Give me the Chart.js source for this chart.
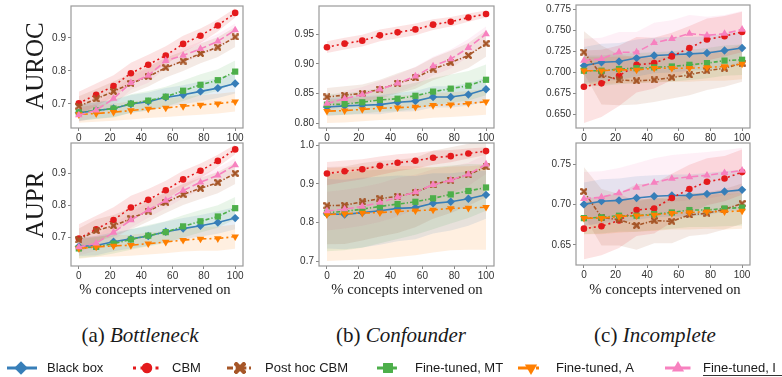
<!DOCTYPE html>
<html>
<head>
<meta charset="utf-8">
<script src="https://cdn.jsdelivr.net/npm/chart.js@4.4.1/dist/chart.umd.min.js"></script>
<style>
  body { margin: 0; background: #fff; width: 782px; height: 377px; overflow: hidden; position: relative; }
  canvas.panel { position: absolute; }
  .lbl { position: absolute; font-family: "Liberation Serif", serif; color: #1a1a1a; white-space: nowrap; transform: translate(-50%, -50%); }
  .rot { transform: translate(-50%, -50%) rotate(-90deg); }
</style>
</head>
<body>

<script>
// ========================
// DATA
// ========================

// x positions: % of concepts intervened on
const xPct = [0, 11.1, 22.2, 33.3, 44.4, 55.6, 66.7, 77.8, 88.9, 100];
const xTicks = [0, 20, 40, 60, 80, 100];

const seriesNames = ['Black box', 'CBM', 'Post hoc CBM', 'Fine-tuned, MT', 'Fine-tuned, A', 'Fine-tuned, I'];

// each panel: rows follow seriesNames order (mean, then +/- spread)
const rocBottleneck = [
  [0.673, 0.680, 0.686, 0.700, 0.707, 0.720, 0.728, 0.738, 0.748, 0.762],
  [0.702, 0.728, 0.754, 0.793, 0.819, 0.847, 0.882, 0.907, 0.938, 0.976],
  [0.693, 0.715, 0.738, 0.762, 0.783, 0.810, 0.830, 0.853, 0.872, 0.903],
  [0.674, 0.680, 0.686, 0.701, 0.710, 0.722, 0.740, 0.758, 0.772, 0.798],
  [0.668, 0.671, 0.675, 0.680, 0.685, 0.688, 0.693, 0.697, 0.701, 0.707],
  [0.666, 0.681, 0.716, 0.764, 0.786, 0.831, 0.847, 0.867, 0.890, 0.924]
];
const rocBottleneckSd = [
  [0.025, 0.025, 0.026, 0.027, 0.028, 0.028, 0.029, 0.030, 0.030, 0.030],
  [0.035, 0.034, 0.033, 0.032, 0.030, 0.028, 0.025, 0.022, 0.018, 0.014],
  [0.030, 0.030, 0.030, 0.030, 0.030, 0.030, 0.030, 0.030, 0.030, 0.030],
  [0.025, 0.026, 0.027, 0.028, 0.029, 0.030, 0.031, 0.032, 0.033, 0.034],
  [0.025, 0.025, 0.026, 0.027, 0.028, 0.028, 0.029, 0.030, 0.030, 0.030],
  [0.020, 0.020, 0.021, 0.021, 0.022, 0.022, 0.022, 0.022, 0.022, 0.020]
];

const prBottleneck = [
  [0.671, 0.674, 0.686, 0.695, 0.704, 0.717, 0.727, 0.736, 0.746, 0.760],
  [0.696, 0.725, 0.754, 0.793, 0.817, 0.847, 0.881, 0.908, 0.939, 0.975],
  [0.692, 0.721, 0.736, 0.758, 0.782, 0.809, 0.834, 0.853, 0.871, 0.900],
  [0.665, 0.670, 0.680, 0.693, 0.705, 0.716, 0.734, 0.750, 0.765, 0.791],
  [0.665, 0.670, 0.673, 0.675, 0.680, 0.685, 0.691, 0.695, 0.696, 0.702],
  [0.669, 0.681, 0.715, 0.754, 0.785, 0.815, 0.846, 0.872, 0.894, 0.926]
];
const prBottleneckSd = [
  [0.030, 0.030, 0.030, 0.030, 0.031, 0.032, 0.033, 0.034, 0.035, 0.035],
  [0.045, 0.042, 0.040, 0.037, 0.034, 0.030, 0.027, 0.023, 0.019, 0.015],
  [0.035, 0.035, 0.034, 0.034, 0.033, 0.033, 0.033, 0.033, 0.033, 0.033],
  [0.030, 0.030, 0.031, 0.032, 0.033, 0.034, 0.035, 0.035, 0.035, 0.035],
  [0.032, 0.032, 0.033, 0.033, 0.034, 0.035, 0.036, 0.037, 0.038, 0.038],
  [0.025, 0.024, 0.024, 0.024, 0.024, 0.024, 0.024, 0.024, 0.023, 0.022]
];

const rocConfounder = [
  [0.827, 0.829, 0.830, 0.831, 0.835, 0.837, 0.844, 0.844, 0.848, 0.857],
  [0.928, 0.934, 0.939, 0.948, 0.953, 0.958, 0.966, 0.971, 0.978, 0.984],
  [0.844, 0.847, 0.850, 0.857, 0.867, 0.876, 0.891, 0.902, 0.914, 0.934],
  [0.831, 0.832, 0.835, 0.839, 0.841, 0.846, 0.853, 0.858, 0.863, 0.873],
  [0.820, 0.821, 0.823, 0.825, 0.826, 0.827, 0.830, 0.831, 0.833, 0.836],
  [0.833, 0.841, 0.848, 0.857, 0.867, 0.879, 0.896, 0.908, 0.927, 0.950]
];
const rocConfounderSd = [
  [0.015, 0.015, 0.015, 0.016, 0.016, 0.017, 0.018, 0.018, 0.019, 0.020],
  [0.010, 0.010, 0.010, 0.010, 0.010, 0.010, 0.009, 0.008, 0.007, 0.006],
  [0.015, 0.015, 0.015, 0.016, 0.017, 0.018, 0.019, 0.020, 0.021, 0.022],
  [0.018, 0.018, 0.019, 0.020, 0.021, 0.022, 0.023, 0.024, 0.025, 0.026],
  [0.020, 0.020, 0.020, 0.020, 0.020, 0.021, 0.021, 0.021, 0.021, 0.022],
  [0.012, 0.013, 0.013, 0.014, 0.015, 0.016, 0.016, 0.016, 0.015, 0.013]
];

const prConfounder = [
  [0.823, 0.821, 0.826, 0.831, 0.837, 0.839, 0.850, 0.854, 0.862, 0.872],
  [0.927, 0.933, 0.938, 0.947, 0.955, 0.960, 0.968, 0.972, 0.979, 0.985],
  [0.844, 0.845, 0.854, 0.862, 0.868, 0.878, 0.898, 0.910, 0.924, 0.944],
  [0.826, 0.829, 0.835, 0.842, 0.848, 0.854, 0.863, 0.873, 0.882, 0.891],
  [0.821, 0.823, 0.825, 0.826, 0.829, 0.831, 0.833, 0.837, 0.838, 0.840],
  [0.830, 0.835, 0.842, 0.852, 0.866, 0.879, 0.898, 0.910, 0.925, 0.951]
];
const prConfounderSd = [
  [0.090, 0.090, 0.090, 0.088, 0.085, 0.082, 0.078, 0.074, 0.070, 0.062],
  [0.030, 0.028, 0.026, 0.024, 0.022, 0.020, 0.018, 0.016, 0.013, 0.010],
  [0.100, 0.100, 0.100, 0.098, 0.095, 0.090, 0.088, 0.085, 0.080, 0.078],
  [0.100, 0.100, 0.100, 0.095, 0.090, 0.085, 0.080, 0.075, 0.070, 0.060],
  [0.120, 0.120, 0.120, 0.120, 0.118, 0.115, 0.110, 0.108, 0.108, 0.110],
  [0.050, 0.050, 0.050, 0.050, 0.050, 0.045, 0.040, 0.035, 0.030, 0.025]
];

const rocIncomplete = [
  [0.708, 0.712, 0.713, 0.717, 0.720, 0.721, 0.722, 0.723, 0.726, 0.729],
  [0.683, 0.687, 0.696, 0.709, 0.711, 0.719, 0.729, 0.739, 0.743, 0.748],
  [0.724, 0.697, 0.691, 0.690, 0.691, 0.694, 0.697, 0.702, 0.705, 0.711],
  [0.702, 0.702, 0.704, 0.705, 0.706, 0.707, 0.709, 0.711, 0.714, 0.715],
  [0.702, 0.702, 0.703, 0.703, 0.705, 0.705, 0.705, 0.706, 0.707, 0.710],
  [0.714, 0.716, 0.724, 0.724, 0.735, 0.740, 0.746, 0.744, 0.746, 0.751]
];
const rocIncompleteSd = [
  [0.022, 0.022, 0.022, 0.022, 0.021, 0.021, 0.020, 0.020, 0.020, 0.020],
  [0.043, 0.040, 0.036, 0.033, 0.030, 0.028, 0.026, 0.025, 0.024, 0.024],
  [0.025, 0.035, 0.030, 0.028, 0.026, 0.025, 0.024, 0.023, 0.022, 0.022],
  [0.018, 0.018, 0.018, 0.018, 0.018, 0.018, 0.018, 0.018, 0.018, 0.018],
  [0.016, 0.016, 0.016, 0.016, 0.016, 0.016, 0.016, 0.016, 0.017, 0.018],
  [0.026, 0.025, 0.024, 0.024, 0.024, 0.022, 0.022, 0.022, 0.022, 0.022]
];

const prIncomplete = [
  [0.700, 0.704, 0.705, 0.708, 0.710, 0.711, 0.711, 0.713, 0.716, 0.718],
  [0.670, 0.673, 0.680, 0.693, 0.695, 0.708, 0.719, 0.728, 0.732, 0.740],
  [0.716, 0.684, 0.681, 0.674, 0.680, 0.679, 0.687, 0.689, 0.694, 0.701],
  [0.683, 0.684, 0.686, 0.686, 0.688, 0.690, 0.693, 0.693, 0.695, 0.696],
  [0.683, 0.683, 0.685, 0.686, 0.687, 0.689, 0.690, 0.691, 0.691, 0.692],
  [0.707, 0.709, 0.714, 0.721, 0.727, 0.732, 0.734, 0.736, 0.739, 0.742]
];
const prIncompleteSd = [
  [0.027, 0.027, 0.027, 0.027, 0.026, 0.026, 0.026, 0.026, 0.025, 0.025],
  [0.038, 0.036, 0.034, 0.032, 0.031, 0.030, 0.030, 0.029, 0.028, 0.028],
  [0.030, 0.035, 0.032, 0.030, 0.028, 0.027, 0.026, 0.026, 0.025, 0.025],
  [0.020, 0.020, 0.020, 0.020, 0.020, 0.020, 0.021, 0.021, 0.022, 0.022],
  [0.020, 0.020, 0.020, 0.020, 0.020, 0.020, 0.021, 0.021, 0.022, 0.022],
  [0.033, 0.032, 0.031, 0.030, 0.030, 0.029, 0.029, 0.029, 0.028, 0.028]
];

// y tick labels per panel
const ticksRocBottleneck = [0.7, 0.8, 0.9];
const ticksPrBottleneck = [0.7, 0.8, 0.9];
const ticksRocConfounder = [0.80, 0.85, 0.90, 0.95];
const ticksPrConfounder = [0.7, 0.8, 0.9, 1.0];
const ticksRocIncomplete = [0.650, 0.675, 0.700, 0.725, 0.750, 0.775];
const ticksPrIncomplete = [0.65, 0.70, 0.75];

// ========================
// STYLES
// ========================

const seriesColors = ['#377eb8', '#e41a1c', '#a65628', '#4daf4a', '#ff7f00', '#f781bf'];
const seriesDash = [[], [2, 3], [4, 1.8, 1.3, 1.8], [4, 2, 1.3, 2], [9, 3, 2, 3], [7, 3]];
const seriesRadius = [4.2, 3.3, 4, 4.4, 4.4, 4.4];
const seriesRotation = [0, 0, 0, 0, 180, 0];

function hexA(hex, a) {
  const n = parseInt(hex.slice(1), 16);
  return `rgba(${n >> 16},${(n >> 8) & 255},${n & 255},${a})`;
}

// filled "X" marker (like matplotlib 'X')
function makeXMarker(px, color) {
  const c = document.createElement('canvas');
  c.width = c.height = px;
  const g = c.getContext('2d');
  g.translate(px / 2, px / 2);
  g.rotate(Math.PI / 4);
  g.fillStyle = color;
  const t = px * 0.36, l = px * 0.62;
  g.fillRect(-l, -t / 2, 2 * l, t);
  g.fillRect(-t / 2, -l, t, 2 * l);
  return c;
}

const xSmall = makeXMarker(7, seriesColors[2]);
const xBig = makeXMarker(12, seriesColors[2]);
const seriesPoint = ['rectRot', 'circle', xSmall, 'rect', 'triangle', 'triangle'];

// ========================
// LAYOUT
// ========================

const YW = 48, XH = 22, PT = 8, PR = 12;

const panels = [
  { mean: rocBottleneck, sd: rocBottleneckSd, ticks: ticksRocBottleneck, dec: 1, yMin: 0.627, yMax: 0.997, box: [71, 6, 243, 128] },
  { mean: prBottleneck, sd: prBottleneckSd, ticks: ticksPrBottleneck, dec: 1, yMin: 0.610, yMax: 0.995, box: [71, 143, 243, 266] },
  { mean: rocConfounder, sd: rocConfounderSd, ticks: ticksRocConfounder, dec: 2, yMin: 0.7916, yMax: 0.9975, box: [319, 6, 494, 128] },
  { mean: prConfounder, sd: prConfounderSd, ticks: ticksPrConfounder, dec: 1, yMin: 0.688, yMax: 1.006, box: [319, 143, 494, 266] },
  { mean: rocIncomplete, sd: rocIncompleteSd, ticks: ticksRocIncomplete, dec: 3, yMin: 0.634, yMax: 0.780, box: [576, 5, 750, 128] },
  { mean: prIncomplete, sd: prIncompleteSd, ticks: ticksPrIncomplete, dec: 2, yMin: 0.625, yMax: 0.776, box: [576, 143, 750, 265] }
];

Chart.defaults.font.family = '"Liberation Sans", Arial, sans-serif';

const framePlugin = {
  id: 'frame',
  afterDraw(chart) {
    const a = chart.chartArea, g = chart.ctx;
    g.save();
    g.strokeStyle = '#9a9a9a';
    g.lineWidth = 1.2;
    g.strokeRect(a.left, a.top, a.right - a.left, a.bottom - a.top);
    g.restore();
  }
};

function buildDatasets(p) {
  const ds = [];
  seriesNames.forEach((name, i) => {
    const upIdx = ds.length;
    ds.push({
      data: xPct.map((x, k) => ({ x, y: p.mean[i][k] + p.sd[i][k] })),
      borderWidth: 0, pointRadius: 0, fill: upIdx + 1,
      backgroundColor: hexA(seriesColors[i], 0.12), order: 20
    });
    ds.push({
      data: xPct.map((x, k) => ({ x, y: p.mean[i][k] - p.sd[i][k] })),
      borderWidth: 0, pointRadius: 0, fill: false, order: 20
    });
  });
  seriesNames.forEach((name, i) => {
    ds.push({
      label: name,
      data: xPct.map((x, k) => ({ x, y: p.mean[i][k] })),
      borderColor: seriesColors[i],
      backgroundColor: seriesColors[i],
      borderWidth: 1.6,
      borderDash: seriesDash[i],
      pointStyle: seriesPoint[i],
      pointRadius: seriesRadius[i],
      pointRotation: seriesRotation[i],
      pointBorderWidth: 0,
      fill: false,
      tension: 0,
      order: 6 - i
    });
  });
  return ds;
}

panels.forEach(p => {
  const [l, t, r, b] = p.box;
  const cv = document.createElement('canvas');
  cv.className = 'panel';
  const w = YW + (r - l) + PR, h = PT + (b - t) + XH;
  cv.width = w; cv.height = h;
  cv.style.left = (l - YW) + 'px';
  cv.style.top = (t - PT) + 'px';
  cv.style.width = w + 'px';
  cv.style.height = h + 'px';
  document.body.appendChild(cv);

  new Chart(cv, {
    type: 'line',
    data: { datasets: buildDatasets(p) },
    plugins: [framePlugin],
    options: {
      animation: false,
      responsive: false,
      devicePixelRatio: 1,
      layout: { padding: { top: PT, right: PR, left: 0, bottom: 0 } },
      plugins: {
        legend: { display: false },
        tooltip: { enabled: false },
        filler: { drawTime: 'beforeDatasetsDraw' }
      },
      scales: {
        x: {
          type: 'linear', min: -5, max: 105,
          afterBuildTicks: s => { s.ticks = xTicks.map(v => ({ value: v })); },
          afterFit: s => { s.height = XH; },
          grid: { drawOnChartArea: false, drawTicks: true, tickLength: 3, color: '#888' },
          border: { display: false },
          ticks: { color: '#333', font: { size: 10 }, padding: 1, maxRotation: 0, autoSkip: false }
        },
        y: {
          type: 'linear', min: p.yMin, max: p.yMax,
          afterBuildTicks: s => { s.ticks = p.ticks.map(v => ({ value: v })); },
          afterFit: s => { s.width = YW; },
          grid: { drawOnChartArea: false, drawTicks: true, tickLength: 3, color: '#888' },
          border: { display: false },
          ticks: { color: '#333', font: { size: 10 }, padding: 2, autoSkip: false, callback: v => v.toFixed(p.dec) }
        }
      }
    }
  });
});

// ========================
// TEXT LABELS
// ========================

function addLabel(text, x, y, size, extra) {
  const d = document.createElement('div');
  d.className = 'lbl' + (extra || '');
  d.style.left = x + 'px';
  d.style.top = y + 'px';
  d.style.fontSize = size + 'px';
  d.innerHTML = text;
  document.body.appendChild(d);
}

addLabel('AUROC', 35, 66, 25, ' rot');
addLabel('AUPR', 35, 205, 25, ' rot');
addLabel('% concepts intervened on', 155, 289, 14.7);
addLabel('% concepts intervened on', 407, 289, 14.7);
addLabel('% concepts intervened on', 665, 289, 14.7);
addLabel('(a) <i>Bottleneck</i>', 140, 335, 21);
addLabel('(b) <i>Confounder</i>', 401, 335, 21);
addLabel('(c) <i>Incomplete</i>', 655, 335, 21);

// ========================
// LEGEND
// ========================

const legendSpots = [
  { x1: 7, x2: 37, m: 21, tx: 47 },
  { x1: 133, x2: 160, m: 147, tx: 172 },
  { x1: 227, x2: 253, m: 240, tx: 265 },
  { x1: 377, x2: 399, m: 388, tx: 415 },
  { x1: 518, x2: 543, m: 531, tx: 556 },
  { x1: 665, x2: 692, m: 678, tx: 703 }
];

const lg = document.createElement('canvas');
lg.className = 'panel';
lg.width = 782; lg.height = 24;
lg.style.left = '0px'; lg.style.top = '355px';
document.body.appendChild(lg);
const g = lg.getContext('2d');
const ly = 13;
seriesNames.forEach((name, i) => {
  const s = legendSpots[i];
  g.save();
  g.strokeStyle = seriesColors[i];
  g.lineWidth = 3;
  g.setLineDash(seriesDash[i].map(v => v * 1.5));
  g.beginPath();
  g.moveTo(s.x1, ly);
  g.lineTo(s.x2, ly);
  g.stroke();
  g.restore();
  g.save();
  g.fillStyle = seriesColors[i];
  g.strokeStyle = seriesColors[i];
  Chart.helpers.drawPoint(g, {
    pointStyle: i === 2 ? xBig : seriesPoint[i],
    radius: seriesRadius[i] * 1.6,
    rotation: seriesRotation[i],
    borderWidth: 0
  }, s.m, ly);
  g.restore();
  g.fillStyle = '#1a1a1a';
  g.font = '13px "Liberation Sans", Arial, sans-serif';
  g.textBaseline = 'middle';
  g.fillText(name, s.tx, ly);
});
// underline below the last entry
g.strokeStyle = '#333';
g.lineWidth = 1;
g.beginPath();
g.moveTo(703, 20.5);
g.lineTo(782, 20.5);
g.stroke();
</script>
</body>
</html>
